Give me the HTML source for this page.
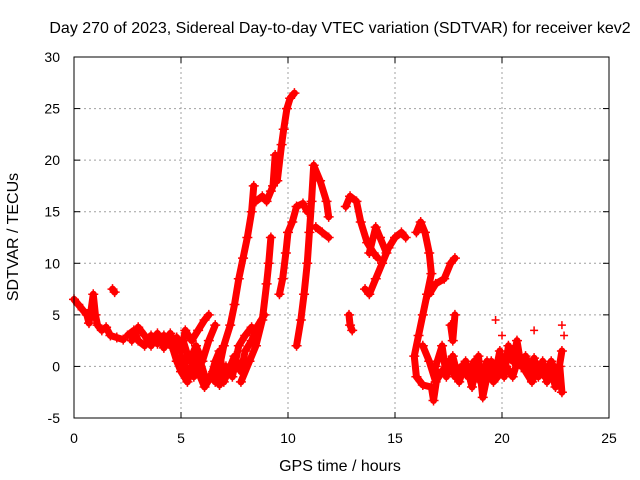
<!DOCTYPE html>
<html><head><meta charset="utf-8"><style>
body{margin:0;background:#fff}
svg{display:block;font-family:"Liberation Sans",sans-serif}
</style></head><body>
<svg id="chart" width="640" height="480" xmlns="http://www.w3.org/2000/svg">
<rect width="640" height="480" fill="#fff"/>
<text x="340" y="33" text-anchor="middle" font-size="16">Day 270 of 2023, Sidereal Day-to-day VTEC variation (SDTVAR) for receiver kev2</text>
<text x="340" y="471" text-anchor="middle" font-size="16">GPS time / hours</text>
<text transform="translate(18,237) rotate(-90)" text-anchor="middle" font-size="16">SDTVAR / TECUs</text>
<g id="grid"></g>
<g id="ticks"></g>
<g id="marks"></g>
<rect x="74" y="57" width="535" height="361" fill="none" stroke="#000"/>
</svg>
<script>
const xTicks=[0,5,10,15,20,25];
const yTicks=[-5,0,5,10,15,20,25,30];
const track1=[[0,6.5],[0.2,6],[0.4,5.5],[0.6,5],[0.7,4.2],[0.8,5.5],[0.9,7],[1.0,5],[1.1,4],[1.3,3.5],[1.5,3.8],[1.7,3],[2.0,2.8],[2.3,2.6]];
const track1b=[[1.8,7.5],[1.9,7.2]];
const track2=[[2.5,3],[2.8,3.5],[3.0,2.5],[3.3,2],[3.6,3],[3.9,2.2],[4.2,3],[4.5,2],[4.8,2.8],[5.0,1.5],[5.2,3.5],[5.5,2.5],[5.8,3.5],[6.1,4.5],[6.3,5]];
const track2b=[[2.7,2.5],[3.0,3.8],[3.3,3],[3.6,2],[3.9,3.2],[4.2,1.8],[4.5,3.2],[4.8,1.5],[5.1,2.5],[5.4,0.5],[5.7,2],[6.0,0.5],[6.3,2.5],[6.6,4]];
const track3=[[4.5,2.5],[4.8,0.5],[5.0,-0.5],[5.3,-1.5],[5.5,0],[5.7,1],[5.9,-1],[6.1,-2],[6.4,-1],[6.6,0.5],[6.8,1.5],[7.0,-1.5],[7.2,-0.5],[7.5,1],[7.8,-0.5],[8.0,1.5],[8.3,2.5],[8.6,4],[8.9,5]];
const track3b=[[5.0,1],[5.3,-0.5],[5.6,-1],[5.9,0.5],[6.2,-1.5],[6.5,-0.5],[6.8,-1.8],[7.1,0],[7.4,-1],[7.7,2],[8.0,3],[8.3,3.8]];
const track4=[[6.6,-1.5],[6.8,0],[7.0,2],[7.3,4],[7.5,6],[7.7,8.5],[7.9,10.5],[8.1,12.5],[8.3,15],[8.4,17.5]];
const track5=[[8.5,16],[8.8,16.5],[9.0,16],[9.2,17],[9.3,17.5],[9.4,20.5]];
const track5b=[[9.5,18],[9.7,21.5],[9.8,23],[9.95,25],[10.1,26],[10.3,26.5]];
const track6=[[7.8,-1.5],[8.2,0.5],[8.5,2],[8.8,4.5],[9.0,8],[9.1,10],[9.2,12.5]];
const track7=[[9.6,7],[9.75,8.5],[9.9,11],[10.0,13],[10.2,14],[10.4,15.5],[10.7,15.8],[10.9,15]];
const track8=[[10.4,2],[10.6,4.5],[10.75,7],[10.9,10],[11.0,13],[11.1,16],[11.2,19.5],[11.5,18],[11.8,16],[11.9,14.5]];
const track8b=[[11.3,13.5],[11.6,13],[11.9,12.5]];
const track9=[[12.7,15.5],[12.9,16.5],[13.2,16],[13.4,14],[13.7,12],[14.0,11],[14.2,10.5]];
const track9b=[[13.6,7.5],[13.8,7],[14.1,8.5],[14.4,10],[14.7,11.5],[15.0,12.5],[15.3,13],[15.5,12.5]];
const track9c=[[13.8,11],[14.1,13.5],[14.3,12.5],[14.6,11]];
const track9d=[[12.85,5],[12.9,4],[13.0,3.5]];
const track10=[[16.0,13],[16.2,14],[16.4,13],[16.6,11],[16.7,9],[16.5,7],[16.3,5],[16.1,3],[15.9,1],[16.0,-1],[16.3,-1.8],[16.7,-2],[16.8,-3.3],[17.0,-0.5]];
const track10b=[[16.6,7],[16.9,8],[17.3,8.5],[17.6,10],[17.8,10.5]];
const track10c=[[17.6,4],[17.7,2.5],[17.8,5]];
const track11=[[16.9,0],[17.2,2],[17.4,-1],[17.7,1],[18.0,-1.5],[18.3,0.5],[18.6,-2],[18.9,1],[19.1,-3],[19.3,-1],[19.5,0.5],[19.7,-0.5],[19.9,1.5],[20.1,-1],[20.3,2],[20.5,0.5],[20.7,2.5],[20.9,0],[21.1,1],[21.3,-0.5],[21.5,0.8],[21.7,-1],[21.9,0.5],[22.1,-1.5],[22.3,-0.5],[22.5,-2],[22.7,0],[22.8,-2.5]];
const track11b=[[16.3,2],[16.6,0.5],[16.9,-1.5],[17.2,-0.5],[17.5,0.5],[17.8,-1],[18.1,0],[18.4,-1],[18.7,0.5],[19.0,-1.5],[19.3,0.5],[19.6,-1.5],[20.2,0],[20.5,-1],[20.8,1],[21.1,-0.5],[21.4,-1.5],[21.7,0],[22.0,-1],[22.3,0.5],[22.6,-1],[22.8,1.5]];
const spikes=[[19.7,4.5],[20.0,3],[21.5,3.5],[22.8,4],[22.9,3]];
const tracks=[track1,track1b,track2,track2b,track3,track3b,track4,track5,track5b,track6,track7,track8,track8b,track9,track9b,track9c,track9d,track10,track10b,track10c,track11,track11b];

const X0=74,X1=609,Y0=418,Y1=57;
const xs=h=>X0+(h-0)/(25-0)*(X1-X0);
const ys=v=>Y0-(v+5)/35*(Y0-Y1);
const NS="http://www.w3.org/2000/svg";
const grid=document.getElementById('grid'),ticks=document.getElementById('ticks'),marks=document.getElementById('marks');
function mk(tag,attrs,parent){const e=document.createElementNS(NS,tag);for(const k in attrs)e.setAttribute(k,attrs[k]);parent.appendChild(e);return e;}
xTicks.forEach(t=>{const x=xs(t);
 if(t>0&&t<25){const l=mk('line',{x1:x,x2:x,y1:Y1,y2:Y0,stroke:'#a0a0a0','stroke-dasharray':'2,3'},grid);
 
 }
 mk('line',{x1:x,x2:x,y1:Y0,y2:Y0-6,stroke:'#000'},ticks);mk('line',{x1:x,x2:x,y1:Y1,y2:Y1+6,stroke:'#000'},ticks);
 const tx=mk('text',{x:x,y:443,'text-anchor':'middle','font-size':14},ticks);tx.textContent=t;
 
 });
yTicks.forEach(t=>{const y=ys(t);
 if(t>-5&&t<30){const l=mk('line',{x1:X0,x2:X1,y1:y,y2:y,stroke:'#a0a0a0','stroke-dasharray':'2,3'},grid);
 
 }
 mk('line',{x1:X0,x2:X0+6,y1:y,y2:y,stroke:'#000'},ticks);mk('line',{x1:X1,x2:X1-6,y1:y,y2:y,stroke:'#000'},ticks);
 const tx=mk('text',{x:60,y:y+5,'text-anchor':'end','font-size':14},ticks);tx.textContent=t;
 
 });
tracks.forEach(tr=>{
 const pl=mk('polyline',{points:tr.map(p=>xs(p[0])+','+ys(p[1])).join(' '),fill:'none',stroke:'#f00','stroke-width':7,'stroke-linejoin':'round','stroke-linecap':'round'},marks);
 
 
 tr.forEach(p=>{const x=xs(p[0]),y=ys(p[1]);
  const m=mk('path',{d:`M${x-5},${y}H${x+5}M${x},${y-5}V${y+5}`,stroke:'#f00','stroke-width':1.5},marks);
  
  });
});
spikes.forEach(p=>{const x=xs(p[0]),y=ys(p[1]);
 const m=mk('path',{d:`M${x-4},${y}H${x+4}M${x},${y-4}V${y+4}`,stroke:'#f00','stroke-width':1.5},marks);
 
 });
</script>
</body></html>
